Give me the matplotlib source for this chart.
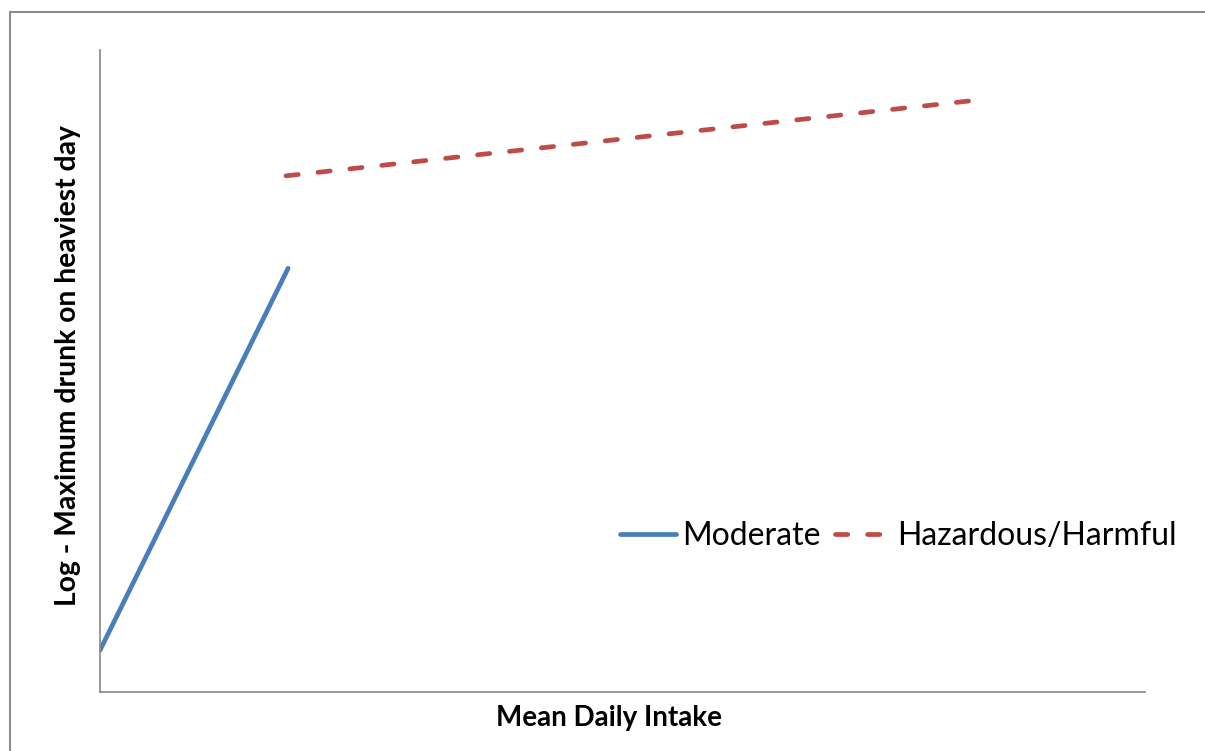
import matplotlib.pyplot as plt
from matplotlib.patches import Rectangle

plt.rcParams["font.family"] = ["Lato", "DejaVu Sans"]

# fitted lines (axis units 0-10, no ticks shown)
moderate_x = [0.0, 1.80]
moderate_y = [0.65, 6.60]
hazardous_x = [1.78, 8.34]
hazardous_y = [8.04, 9.21]

series_names = ["Moderate", "Hazardous/Harmful"]
x_title = "Mean Daily Intake"
y_title = "Log - Maximum drunk on heaviest day"

W, H = 1205, 751
fig = plt.figure(figsize=(W / 100, H / 100), dpi=100)
ax = fig.add_axes([100 / W, 1 - 692 / H, 1045 / W, 642 / H])

blue = "#4A7EBB"
red = "#BE4B48"
ax.plot(moderate_x, moderate_y, color=blue, lw=3.4, solid_capstyle="round",
        label=series_names[0])
ax.plot(hazardous_x, hazardous_y, color=red, lw=3.4, dashes=(2.6, 4.2),
        dash_capstyle="round", label=series_names[1])

ax.set_xlim(0, 10)
ax.set_ylim(0, 10)
ax.set_xticks([])
ax.set_yticks([])
for side in ["top", "right"]:
    ax.spines[side].set_visible(False)
for side in ["left", "bottom"]:
    ax.spines[side].set_color("#868686")
    ax.spines[side].set_linewidth(1.2)

fig.text(609 / W, 1 - 718 / H, x_title, ha="center", va="center",
         fontsize=20, fontweight="bold")
fig.text(68 / W, 1 - 366 / H, y_title, ha="center", va="center",
         rotation=90, fontsize=20.3, fontweight="bold")

fig.legend(loc="center left", bbox_to_anchor=(620 / W, 1 - 536 / H),
           ncol=2, frameon=False, fontsize=23, handlelength=1.75,
           handletextpad=0.2, columnspacing=0.45, borderaxespad=0,
           borderpad=0)

# chart area border (cropped at right and bottom in the original)
fig.add_artist(Rectangle((10 / W, -0.1), 2, (H - 12) / H + 0.1,
                         transform=fig.transFigure, fill=False,
                         ec="#8c8c8c", lw=1.5))

fig.savefig("out.png", dpi=100)
